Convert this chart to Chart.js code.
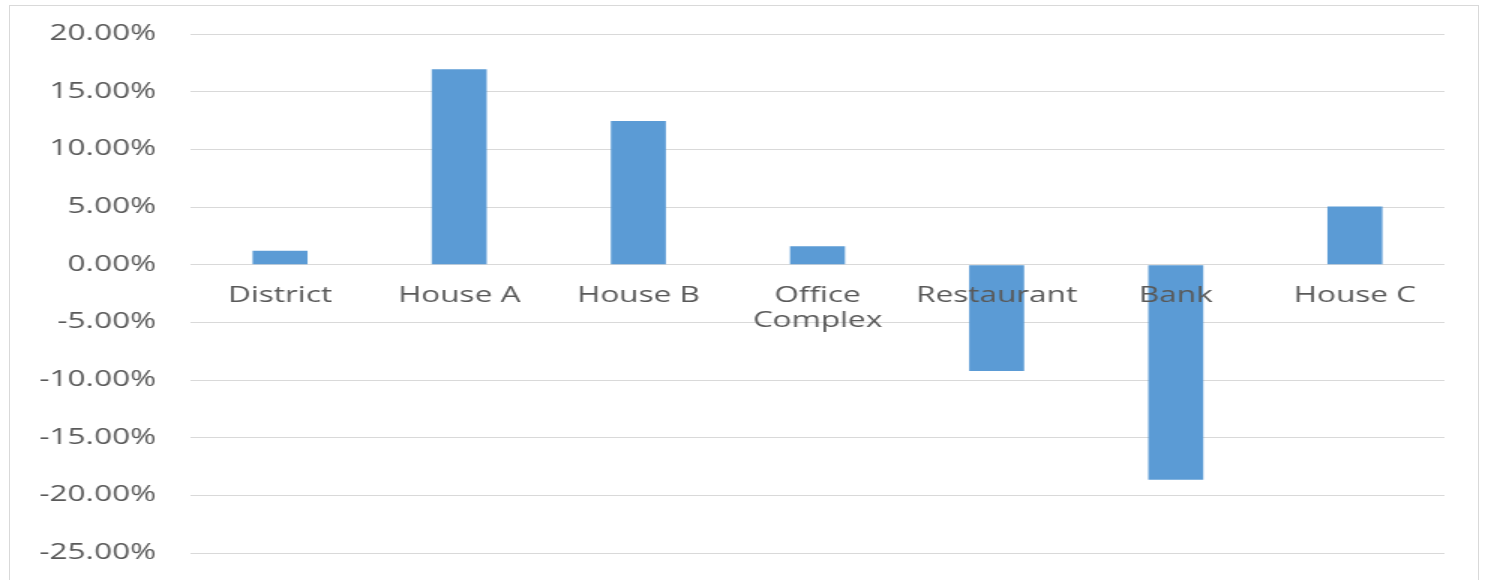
<!DOCTYPE html>
<html>
<head>
<meta charset="utf-8">
<script src="https://cdn.jsdelivr.net/npm/chart.js@4"></script>
<style>
  body { margin: 0; background: #fff; overflow: hidden; }
  #frame { position: absolute; left: 9px; top: 5px; width: 1468px; height: 600px; border: 1px solid #d9d9d9; }
  #wrap { position: absolute; left: 0; top: 0; width: 990px; height: 580px; transform: scaleX(1.5); transform-origin: 0 0; }
</style>
</head>
<body>
<div id="frame"></div>
<div id="wrap"><canvas id="chart" width="990" height="580"></canvas></div>
<script>
const categories = ["District", "House A", "House B", ["Office", "Complex"], "Restaurant", "Bank", "House C"];
const values = [1.2, 16.95, 12.46, 1.6, -9.22, -18.65, 5.05];
const yMin = -25;
const yMax = 20;
const yStep = 5;

const labelColor = "#595959";
const font = { family: "'Open Sans', sans-serif", size: 21 };

const chartInstance = new Chart(document.getElementById("chart"), {
    type: "bar",
    data: {
        labels: categories,
        datasets: [
            {
                data: values,
                backgroundColor: "#5b9bd5",
                borderWidth: 0,
                categoryPercentage: 1,
                barPercentage: 0.307,
            },
        ],
    },
    options: {
        responsive: false,
        animation: false,
        layout: {
            padding: { left: 0, right: 27, top: 34, bottom: 27 }
        },
        plugins: {
            legend: { display: false },
            tooltip: { enabled: false }
        },
        scales: {
            x: {
                position: { y: 0 },
                grid: { display: false },
                border: { display: false },
                // labels sit at the zero line, so the axis needs no room of its own
                afterFit: (scale) => { scale.height = 0; },
                ticks: {
                    z: 1,
                    color: labelColor,
                    font: font,
                    padding: 11,
                    maxRotation: 0,
                    autoSkip: false
                }
            },
            y: {
                min: yMin,
                max: yMax,
                grid: { color: "#d9d9d9", drawTicks: false },
                border: { display: false },
                afterFit: (scale) => {
                    scale.width = 127;
                    scale.paddingTop = 0;
                    scale.paddingBottom = 0;
                },
                ticks: {
                    stepSize: yStep,
                    color: labelColor,
                    font: font,
                    padding: 23,
                    callback: (v) => v.toFixed(2) + "%"
                }
            }
        }
    },
});
</script>
</body>
</html>
